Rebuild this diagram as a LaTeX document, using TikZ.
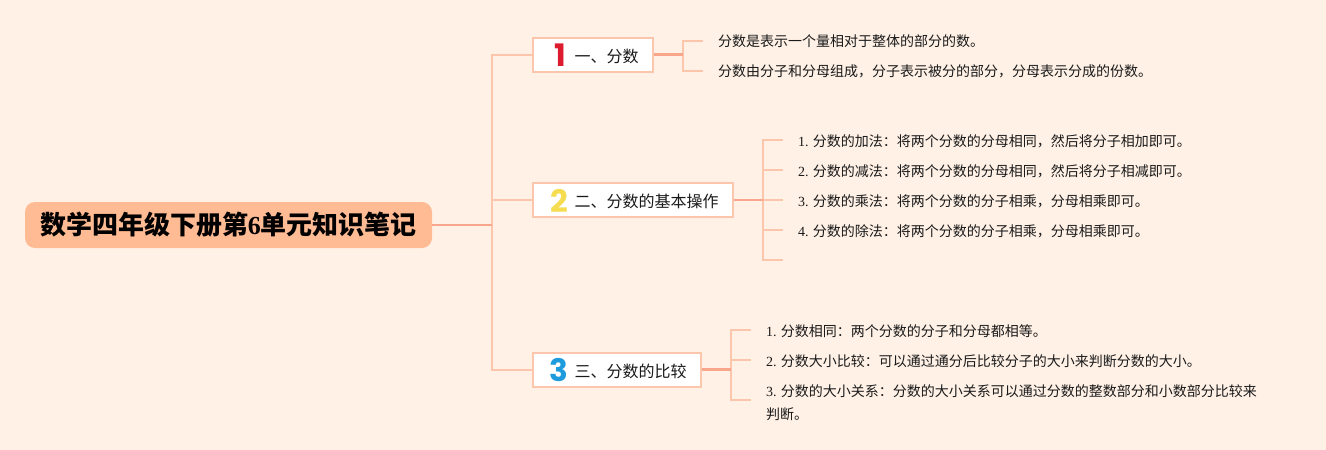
\documentclass[tikz,border=0pt]{standalone}
\usepackage{fontspec}
\setmainfont{Noto Sans CJK SC}
\newfontfamily\latn{Liberation Serif}
\newfontfamily\badge{Poppins}[BoldFont={Poppins Bold}]
\usetikzlibrary{positioning}

\definecolor{paper}{HTML}{FFF1E6}
\definecolor{rootfill}{HTML}{FFBC94}
\definecolor{trunk}{HTML}{F9A78C}
\definecolor{limb}{HTML}{FBC6AC}
\definecolor{ink}{HTML}{1A1A1A}

\newcommand{\nr}[1]{{\latn #1}}

\tikzset{
    rootnode/.style={fill=rootfill, rounded corners=10pt, minimum width=407pt,
        minimum height=46pt, inner sep=0pt, font=\fontsize{26}{26}\selectfont\bfseries},
    topic/.style={draw=limb, fill=white, line width=2pt, minimum height=34pt,
        inner xsep=14pt, inner ysep=0pt, anchor=west, text=ink,
        text height=17pt, text depth=2pt, font=\fontsize{16}{16}\selectfont},
    leaf/.style={anchor=west, inner xsep=15pt, inner ysep=0pt, text=ink,
        align=left, font=\fontsize{14}{23}\selectfont},
    digit/.style={inner sep=0pt, font=\badge\bfseries\fontsize{31}{31}\selectfont},
    trunkline/.style={draw=trunk, line width=2.2pt},
    limbline/.style={draw=limb, line width=2pt}
}

\begin{document}
\begin{tikzpicture}[x=1pt, y=-1pt]
        \fill[paper] (0,0) rectangle (1326,450);
        \useasboundingbox (0,0) rectangle (1326,450);

        % Add the root and the three topics
        \node[rootnode] (root) at (228.5,225) {数学四年级下册第{\latn\bfseries 6}单元知识笔记};
        \node[topic] (t_1) at (532,54.5) {\hspace{27.5pt}一、分数};
        \node[topic] (t_2) at (532,200) {\hspace{27.5pt}二、分数的基本操作};
        \node[topic] (t_3) at (532,369.5) {\hspace{27.5pt}三、分数的比较};

        \node[digit, text={rgb,255:red,220;green,27;blue,47}] (d_1) at (560,55.5) {1};
        \node[digit, text={rgb,255:red,245;green,220;blue,80}] (d_2) at (559,201) {2};
        \node[digit, text={rgb,255:red,30;green,155;blue,220}] (d_3) at (559,370.5) {3};

        % Add the notes
        \node[leaf] (n_11) at (703,41) {分数是表示一个量相对于整体的部分的数。};
        \node[leaf] (n_12) at (703,71) {分数由分子和分母组成，分子表示被分的部分，分母表示分成的份数。};

        \node[leaf] (n_21) at (783,141) {\nr{1.} 分数的加法：将两个分数的分母相同，然后将分子相加即可。};
        \node[leaf] (n_22) at (783,171) {\nr{2.} 分数的减法：将两个分数的分母相同，然后将分子相减即可。};
        \node[leaf] (n_23) at (783,201) {\nr{3.} 分数的乘法：将两个分数的分子相乘，分母相乘即可。};
        \node[leaf] (n_24) at (783,231) {\nr{4.} 分数的除法：将两个分数的分子相乘，分母相乘即可。};
        \coordinate (n_25) at (783,260);

        \node[leaf] (n_31) at (751,331) {\nr{1.} 分数相同：两个分数的分子和分母都相等。};
        \node[leaf] (n_32) at (751,361) {\nr{2.} 分数大小比较：可以通过通分后比较分子的大小来判断分数的大小。};
        \node[leaf] (n_33) at (751,402.5) {\nr{3.} 分数的大小关系：分数的大小关系可以通过分数的整数部分和小数部分比较来\\判断。};

        % Junctions of the branches
        \coordinate (j_0) at (492,225);
        \coordinate (j_1) at (683,54.5);
        \coordinate (j_2) at (763,200);
        \coordinate (j_3) at (731,369.5);

        % Connect the root with the topics
        \draw[limbline] (t_1.west) -| (j_0);
        \draw[limbline] (t_3.west) -| (j_0);
        \draw[limbline] (t_2.west) -| (j_0);
        \draw[trunkline] (root.east) -- (j_0);

        % Connect the topics with the notes
        \draw[limbline]
            (n_11.west) -| (j_1)
            (n_12.west) -| (j_1);
        \draw[limbline]
            (n_21.west |- 0,140) -| (j_2)
            (n_22.west |- 0,170) -| (j_2)
            (n_23.west |- 0,200) -- (j_2)
            (n_24.west |- 0,230) -| (j_2)
            (n_25) -| (j_2);
        \draw[limbline]
            (n_31.west |- 0,330) -| (j_3)
            (n_32.west |- 0,360) -| (j_3)
            (n_33.west |- 0,400) -| (j_3);
        \draw[trunkline] (t_1.east) -- (j_1);
        \draw[trunkline] (t_2.east) -- (j_2);
        \draw[trunkline] (t_3.east) -- (j_3);
\end{tikzpicture}
\end{document}
